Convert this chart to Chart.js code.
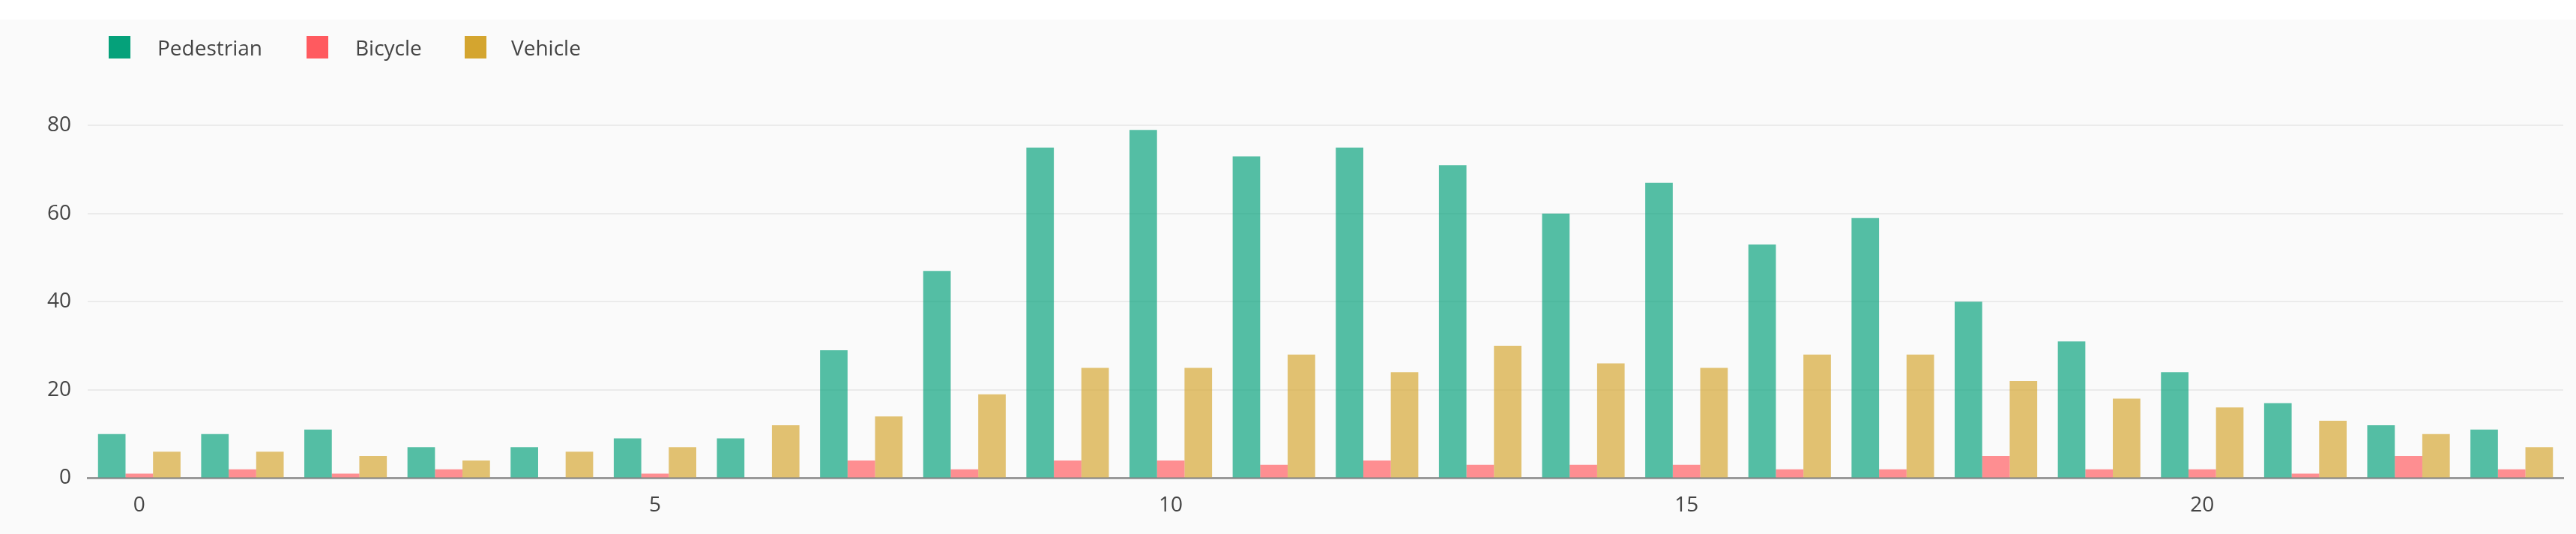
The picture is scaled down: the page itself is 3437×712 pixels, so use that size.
<!DOCTYPE html>
<html><head><meta charset="utf-8">
<script src="https://cdn.jsdelivr.net/npm/chart.js@4"></script>
<style>
html,body{margin:0;padding:0;background:#fff;}
#wrap{position:absolute;left:0;top:26px;width:3437px;height:686px;background:#fafafa;}
canvas{position:absolute;left:0;top:0;}
.lg{position:absolute;top:22px;height:30px;font:28px 'Open Sans','Noto Sans',sans-serif;color:#444;line-height:30px;}
.bx{position:absolute;top:22px;width:29px;height:30px;}
</style></head><body>
<div id="wrap"><canvas id="c" width="3437" height="686"></canvas><div id="legend"></div></div>
<script>
const hours = [0,1,2,3,4,5,6,7,8,9,10,11,12,13,14,15,16,17,18,19,20,21,22,23];
const pedestrian = [10,10,11,7,7,9,9,29,47,75,79,73,75,71,60,67,53,59,40,31,24,17,12,11];
const bicycle = [1,2,1,2,0,1,0,4,2,4,4,3,4,3,3,3,2,2,5,2,2,1,5,2];
const vehicle = [6,6,5,4,6,7,12,14,19,25,25,28,24,30,26,25,28,28,22,18,16,13,10,7];
const yTicks = [0,20,40,60,80];
const seriesNames = ['Pedestrian','Bicycle','Vehicle'];
const solidColors = ['#05a17a','#ff5a5f','#d4a52f'];
const fillColors = ['rgba(5,161,122,0.68)','rgba(255,90,95,0.68)','rgba(212,165,47,0.68)'];
const legendX = [[145,210],[409,474],[620,682]];

const lg = document.getElementById('legend');
seriesNames.forEach((n,i)=>{
  const b=document.createElement('div'); b.className='bx'; b.style.left=legendX[i][0]+'px'; b.style.background=solidColors[i]; lg.appendChild(b);
  const t=document.createElement('div'); t.className='lg'; t.style.left=legendX[i][1]+'px'; t.textContent=n; lg.appendChild(t);
});

const font = {family:"'Open Sans', 'Noto Sans', sans-serif", size:28};
const series = [pedestrian, bicycle, vehicle];
new Chart(document.getElementById('c'), {
  type:'bar',
  data:{labels:hours, datasets: series.map((d,i)=>({label:seriesNames[i], data:d, backgroundColor:fillColors[i], borderWidth:0, categoryPercentage:0.8, barPercentage:1.0}))},
  options:{
    responsive:false, animation:false, devicePixelRatio:1,
    layout:{padding:{left:41,right:17,top:106,bottom:1}},
    plugins:{legend:{display:false}, tooltip:{enabled:false}},
    scales:{
      x:{grid:{display:false, drawTicks:false}, border:{display:true, color:'#999', width:3},
        ticks:{font, color:'#444', padding:20, autoSkip:false, maxRotation:0,
          callback:(v,i)=> hours[i]%5===0 ? String(hours[i]) : ''}},
      y:{min:0, max:86, grid:{color:'#ebebeb', lineWidth:2, drawTicks:false}, border:{display:false},
        afterBuildTicks:(s)=>{s.ticks = yTicks.map(v=>({value:v}));},
        ticks:{font, color:'#444', padding:22}}
    }
  }
});
</script></body></html>
